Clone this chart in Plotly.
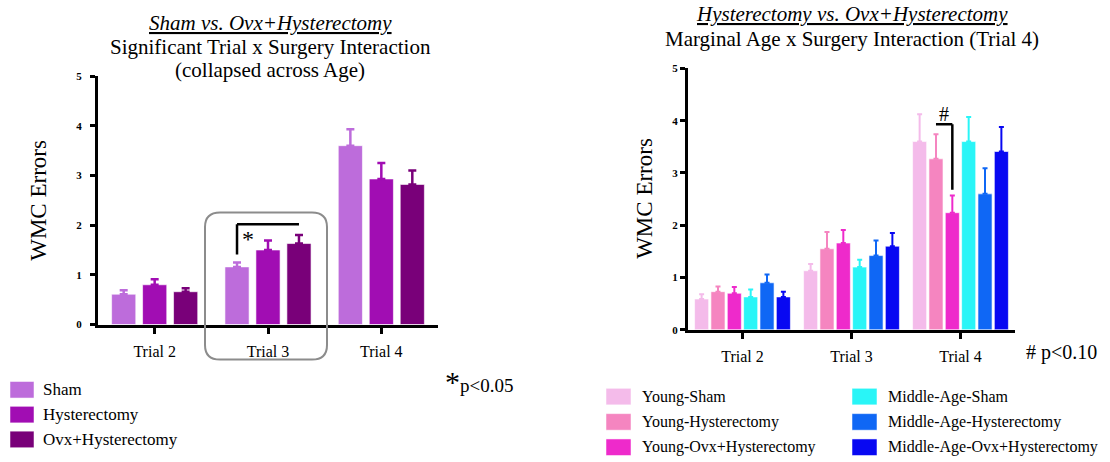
import plotly.graph_objects as go

# ---------------- data ----------------
trials = ["Trial 2", "Trial 3", "Trial 4"]

# Panel A: collapsed across age
left_groups = ["Sham", "Hysterectomy", "Ovx+Hysterectomy"]
left_colors = ["#BD6CDB", "#A10DB3", "#790079"]
sham_mean = [0.61, 1.16, 3.60]
sham_sem = [0.08, 0.09, 0.33]
hyst_mean = [0.80, 1.50, 2.93]
hyst_sem = [0.11, 0.19, 0.32]
ovx_mean = [0.66, 1.63, 2.82]
ovx_sem = [0.07, 0.17, 0.28]
left_means = [sham_mean, hyst_mean, ovx_mean]
left_sems = [sham_sem, hyst_sem, ovx_sem]

# Panel B: age x surgery
right_groups = ["Young-Sham", "Young-Hysterectomy", "Young-Ovx+Hysterectomy",
                "Middle-Age-Sham", "Middle-Age-Hysterectomy", "Middle-Age-Ovx+Hysterectomy"]
right_colors = ["#F4BBEA", "#F585C0", "#EE2ACB", "#29F5F7", "#0F67F5", "#0808F2"]
young_sham = [0.59, 1.13, 3.60]
young_sham_sem = [0.09, 0.13, 0.52]
young_hyst = [0.73, 1.55, 3.27]
young_hyst_sem = [0.10, 0.32, 0.47]
young_ovx = [0.70, 1.66, 2.24]
young_ovx_sem = [0.12, 0.25, 0.33]
mid_sham = [0.63, 1.20, 3.60]
mid_sham_sem = [0.14, 0.14, 0.47]
mid_hyst = [0.90, 1.42, 2.60]
mid_hyst_sem = [0.16, 0.29, 0.49]
mid_ovx = [0.63, 1.60, 3.41]
mid_ovx_sem = [0.10, 0.25, 0.47]
right_means = [young_sham, young_hyst, young_ovx, mid_sham, mid_hyst, mid_ovx]
right_sems = [young_sham_sem, young_hyst_sem, young_ovx_sem,
              mid_sham_sem, mid_hyst_sem, mid_ovx_sem]

y_ticks = [0, 1, 2, 3, 4, 5]

# ---------------- styling ----------------
W, H = 1110, 462
SERIF = "Liberation Serif"
LEFT_GAP = 0.18
RIGHT_GAP = 0.10


def px(x):
    return x / W


def py(y):
    return 1 - y / H


fig = go.Figure()

n_l = len(left_groups)
slot_l = (1 - LEFT_GAP) / n_l
bar_w_l = slot_l * 0.78
for i, (name, color, m, s) in enumerate(zip(left_groups, left_colors, left_means, left_sems)):
    fig.add_trace(go.Bar(
        x=trials, y=m, name=name, xaxis="x", yaxis="y",
        width=bar_w_l,
        offset=-0.5 * (1 - LEFT_GAP) + i * slot_l + (slot_l - bar_w_l) / 2,
        marker=dict(color=color, line=dict(color="rgba(255,255,255,0.6)", width=1)),
        error_y=dict(type="data", array=s, arrayminus=[0] * len(s), symmetric=False,
                     color=color, thickness=2.5, width=4),
        showlegend=False,
    ))

n_r = len(right_groups)
slot_r = (1 - RIGHT_GAP) / n_r
bar_w_r = slot_r * 0.86
for i, (name, color, m, s) in enumerate(zip(right_groups, right_colors, right_means, right_sems)):
    fig.add_trace(go.Bar(
        x=trials, y=m, name=name, xaxis="x2", yaxis="y2",
        width=bar_w_r,
        offset=-0.5 * (1 - RIGHT_GAP) + i * slot_r + (slot_r - bar_w_r) / 2,
        marker=dict(color=color, line=dict(color="rgba(255,255,255,0.6)", width=1)),
        error_y=dict(type="data", array=s, arrayminus=[0] * len(s), symmetric=False,
                     color=color, thickness=2, width=2.5),
        showlegend=False,
    ))

axis_common = dict(showline=True, linecolor="black", linewidth=3, ticks="outside",
                   tickcolor="black", tickwidth=3, showgrid=False, zeroline=False)

fig.update_layout(
    width=W, height=H, margin=dict(l=0, r=0, t=0, b=0),
    paper_bgcolor="white", plot_bgcolor="white",
    barmode="overlay",
    font=dict(family=SERIF, color="black"),
    xaxis=dict(domain=[px(98), px(438)], anchor="y", type="category",
               range=[-0.5, 2.5], ticklen=6, ticklabelstandoff=4,
               tickfont=dict(size=16, family=SERIF), **axis_common),
    yaxis=dict(domain=[py(327), py(72)], anchor="x", range=[0, 5],
               tickvals=y_ticks, ticklen=5, ticklabelstandoff=6,
               tickfont=dict(size=11, family=SERIF, weight="bold"), **axis_common),
    xaxis2=dict(domain=[px(688), px(1015)], anchor="y2", type="category",
                range=[-0.5, 2.5], ticklen=6, ticklabelstandoff=4,
                tickfont=dict(size=16, family=SERIF), **axis_common),
    yaxis2=dict(domain=[py(332.5), py(64)], anchor="x2", range=[0, 5],
                tickvals=y_ticks, ticklen=5,
                tickfont=dict(size=11, family=SERIF, weight="bold"), **axis_common),
)

# ---------------- significance markers ----------------
sham_x = 1 - slot_l
ovx_x = 1 + slot_l
fig.add_shape(type="line", xref="x", yref="y", x0=sham_x, x1=sham_x, y0=1.41, y1=2.02,
              line=dict(color="black", width=2.5))
fig.add_shape(type="line", xref="x", yref="y", x0=sham_x, x1=ovx_x, y0=2.02, y1=2.02,
              line=dict(color="black", width=2.5))
fig.add_annotation(xref="x", yref="y", x=1 - 0.18, y=1.72, text="*", showarrow=False,
                   font=dict(size=24, family=SERIF))

yh_x = 2 + (-1.5) * slot_r
yo_x = 2 + (-0.5) * slot_r
fig.add_shape(type="line", xref="x2", yref="y2", x0=yh_x, x1=yo_x, y0=3.93, y1=3.93,
              line=dict(color="black", width=2.5))
fig.add_shape(type="line", xref="x2", yref="y2", x0=yo_x, x1=yo_x, y0=3.93, y1=2.68,
              line=dict(color="black", width=2.5))
fig.add_annotation(xref="x2", yref="y2", x=yh_x + 0.5 * slot_r, y=4.12, text="#",
                   showarrow=False, font=dict(size=20, family=SERIF))

# rounded box highlighting Trial 3 in the left panel
bx0, bx1, by0, by1, r = px(205), px(327), py(363), py(212), 15
rx, ry = r / W, r / H
box_path = (f"M {bx0 + rx} {by1} L {bx1 - rx} {by1} Q {bx1} {by1} {bx1} {by1 - ry} "
            f"L {bx1} {by0 + ry} Q {bx1} {by0} {bx1 - rx} {by0} "
            f"L {bx0 + rx} {by0} Q {bx0} {by0} {bx0} {by0 + ry} "
            f"L {bx0} {by1 - ry} Q {bx0} {by1} {bx0 + rx} {by1} Z")
fig.add_shape(type="path", xref="paper", yref="paper", path=box_path,
              line=dict(color="#8C8C8C", width=2), fillcolor="rgba(0,0,0,0)")


# ---------------- titles ----------------
def text(x, y, t, size, xanchor="center", **kw):
    fig.add_annotation(xref="paper", yref="paper", x=px(x), y=py(y), text=t,
                       showarrow=False, xanchor=xanchor, yanchor="middle",
                       font=dict(size=size, family=SERIF, color="black"), **kw)


text(270, 17, "<i><u>Sham vs. Ovx+Hysterectomy</u></i>", 21)
text(270, 42, "Significant Trial x Surgery Interaction", 21)
text(270, 66, "(collapsed across Age)", 21)
text(852, 8, "<i><u>Hysterectomy vs. Ovx+Hysterectomy</u></i>", 21)
text(852, 34, "Marginal Age x Surgery Interaction (Trial 4)", 21)

text(39, 200, "WMC Errors", 23, textangle=-90)
text(645, 198, "WMC Errors", 23, textangle=-90)

text(443, 386, "<span style='font-size:30px'>*</span>p&lt;0.05", 19, xanchor="left")
text(1024, 356, "# p&lt;0.10", 20, xanchor="left")


# ---------------- legends ----------------
def legend_item(x_sq, y_c, color, label, size=17, sq_w=24, sq_h=17, gap=7):
    fig.add_shape(type="rect", xref="paper", yref="paper",
                  x0=px(x_sq), x1=px(x_sq + sq_w), y0=py(y_c + sq_h / 2), y1=py(y_c - sq_h / 2),
                  fillcolor=color, line=dict(color="rgba(255,255,255,0.5)", width=1))
    text(x_sq + sq_w + gap, y_c, label, size, xanchor="left")


for i, (name, color) in enumerate(zip(left_groups, left_colors)):
    legend_item(10, 394 + i * 25.5, color, name)

for i, (name, color) in enumerate(zip(right_groups, right_colors)):
    col, row = divmod(i, 3)
    legend_item(606 + col * 246, 401 + row * 26, color, name, size=16, sq_w=25, gap=9)

fig.write_html("out.html")
